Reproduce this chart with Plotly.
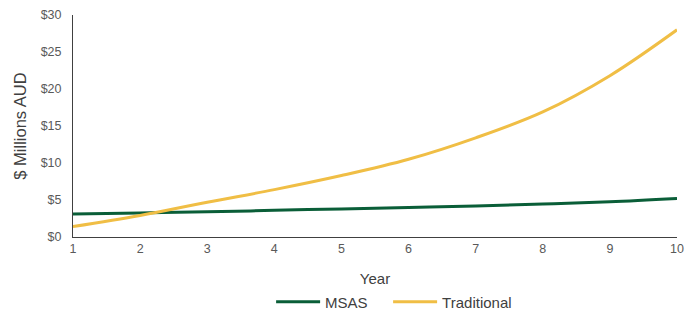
import plotly.graph_objects as go

years = [1, 2, 3, 4, 5, 6, 7, 8, 9, 10]
msas = [3.1, 3.25, 3.4, 3.6, 3.8, 4.0, 4.2, 4.45, 4.75, 5.2]
traditional = [1.4, 2.9, 4.7, 6.4, 8.3, 10.5, 13.4, 16.9, 21.8, 28.0]
y_ticks = [0, 5, 10, 15, 20, 25, 30]
y_labels = ["$0", "$5", "$10", "$15", "$20", "$25", "$30"]

fig = go.Figure()
fig.add_trace(go.Scatter(x=years, y=msas, name="MSAS", mode="lines", legend="legend",
                         line=dict(color="#0A5E38", width=3, shape="spline")))
fig.add_trace(go.Scatter(x=years, y=traditional, name="Traditional", mode="lines", legend="legend2",
                         line=dict(color="#F0BE45", width=3, shape="spline")))

leg_common = dict(orientation="h", xanchor="left", y=-0.293, yanchor="middle",
                  itemwidth=44, font=dict(size=15, color="#404040"),
                  bgcolor="rgba(0,0,0,0)")

fig.update_layout(
    width=687, height=303,
    margin=dict(l=65, r=18, t=7, b=74, autoexpand=False),
    plot_bgcolor="white", paper_bgcolor="white",
    font=dict(family="Liberation Sans, Arial, sans-serif", color="#404040", size=12),
    showlegend=True,
    legend=dict(x=0.328, **leg_common),
    legend2=dict(x=0.5217, **leg_common),
    xaxis=dict(range=[1, 10], tickvals=years, showgrid=False, zeroline=False,
               showline=True, linecolor="#404040", linewidth=1,
               ticks="", tickfont=dict(size=12.5, color="#595959"),
               title=dict(text="Year", font=dict(size=15, color="#404040"), standoff=18)),
    yaxis=dict(range=[0, 30], tickvals=y_ticks, ticktext=y_labels, showgrid=False,
               zeroline=False, showline=True, linecolor="#404040", linewidth=1,
               ticks="", ticklabelstandoff=8, tickfont=dict(size=12.5, color="#595959"),
               title=dict(text="$ Millions AUD", font=dict(size=16.5, color="#404040"), standoff=9)),
)
fig.write_html("out.html")
